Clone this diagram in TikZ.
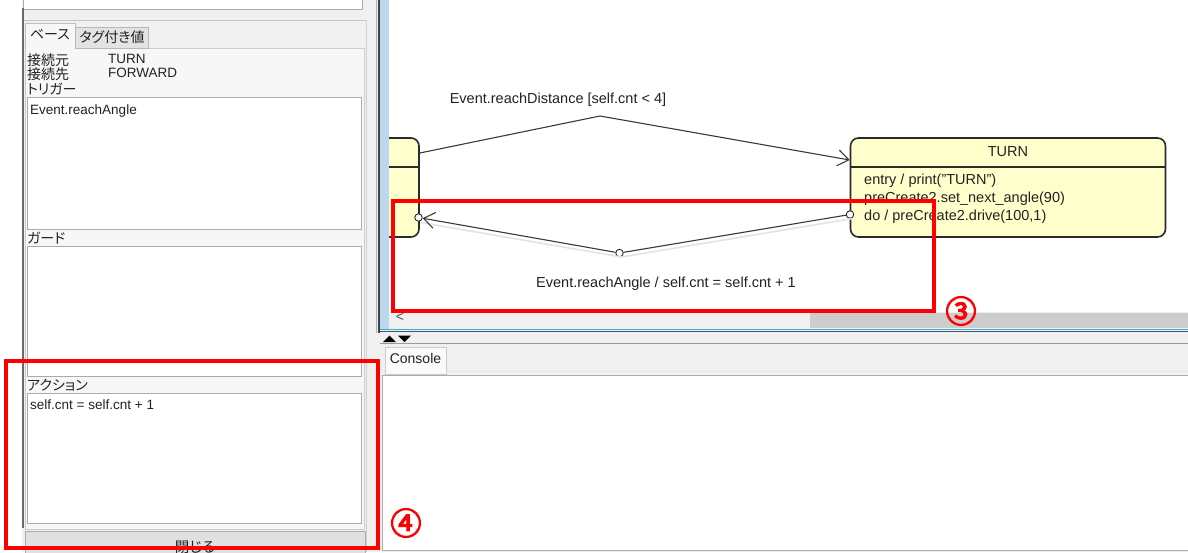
\documentclass[tikz,border=0pt]{standalone}
\usepackage{fontspec}
\setmainfont{Liberation Sans}
\newfontfamily\jp[RawFeature=+palt]{Noto Sans CJK JP}
\newfontfamily\circfont[FakeBold=4]{Noto Sans CJK JP}
\usetikzlibrary{arrows.meta}
\definecolor{panel}{HTML}{F0F0F0}
\definecolor{fieldgray}{HTML}{ABABAB}
\definecolor{darkline}{HTML}{6A6A6A}
\definecolor{canvasblue}{HTML}{BDD7EE}
\definecolor{statefill}{HTML}{FFFFCC}
\definecolor{statedraw}{HTML}{2A2A2A}
\definecolor{thumb}{HTML}{CDCDCD}
\definecolor{tealline}{HTML}{49A6C8}
\definecolor{tealdark}{HTML}{2E5E6E}
\definecolor{uired}{HTML}{FF0000}
\definecolor{txt}{HTML}{222222}
\definecolor{linegray}{HTML}{3A3A3A}
\definecolor{shadowgray}{HTML}{E2E2E2}
\begin{document}
\begin{tikzpicture}[x=1pt,y=-1pt,
  ui/.style={font=\fontsize{13.5}{15}\selectfont, text=txt, inner sep=0pt, text height=9.7pt, text depth=2.8pt},
  jplabel/.style={font=\jp\fontsize{14}{15}\selectfont, text=txt, inner sep=0pt, anchor=west},
  dgm/.style={font=\fontsize{14.5}{17}\selectfont, text=txt, inner sep=0pt, text height=10.4pt, text depth=3pt},
  field/.style={fill=white, draw=fieldgray, line width=1pt},
  statebox/.style={draw=statedraw, fill=statefill, rounded corners=8pt, line width=1.6pt, inner sep=0pt},
  trans/.style={draw=linegray, line width=1.1pt},
  port/.style={circle, draw=statedraw, fill=white, line width=0.9pt, minimum size=7.5pt, inner sep=0pt},
  redbox/.style={draw=uired, line width=4pt},
  num/.style={font=\circfont\fontsize{31}{31}\selectfont, text=uired, inner sep=0pt},
  opentip/.style={-{Straight Barb[length=11pt,width=16pt,line width=1.1pt]}}
]
\useasboundingbox (0,0) rectangle (1188,552);
\clip (0,0) rectangle (1188,552);
% backgrounds
\fill[white] (0,0) rectangle (1188,552);
\fill[panel] (22,0) rectangle (1188,552);
% ---------------- left panel ----------------
\draw[field] (23,-3) rectangle (362,9);
\draw[fieldgray!70, line width=1pt] (23,20.5) -- (367,20.5);
\draw[black!18, line width=1pt] (366,20) -- (366,552);
% tab content
\draw[fill=black!3, draw=black!20, line width=0.8pt] (25,48) rectangle (364,529);
% tabs
\draw[fill=black!3, draw=black!25, line width=0.8pt] (25,23) rectangle (75,48.5);
\draw[fill=black!11, draw=black!28, line width=0.8pt] (75,27) rectangle (148,48);
\fill[black!3] (25.5,47) rectangle (74.5,49.5);
\node[jplabel, anchor=center] (tabbase) at (50,35) {ベース};
\node[jplabel, anchor=center] (tabtag) at (112,37.5) {タグ付き値};
\draw[darkline, line width=2pt] (22.5,8) -- (22.5,528);
% properties
\node[jplabel] (lsrc) at (27,60) {接続元};
\node[ui, anchor=west] (vsrc) at (108,60) {TURN};
\node[jplabel] (ldst) at (27,74.5) {接続先};
\node[ui, anchor=west] (vdst) at (108,74.5) {FORWARD};
\node[jplabel] (ltrig) at (27,89) {トリガー};
\draw[field] (27,97.5) rectangle (361,229);
\node[ui, anchor=west] (vtrig) at (30,111) {Event.reachAngle};
\node[jplabel] (lguard) at (27,238.5) {ガード};
\draw[field] (27,246.5) rectangle (361,376);
\node[jplabel] (laction) at (27,385.5) {アクション};
\draw[field] (27,393) rectangle (361,523);
\node[ui, anchor=west] (vaction) at (30,406) {self.cnt = self.cnt + 1};
% close button
\draw[fill=black!12, draw=black!32, line width=0.8pt] (25,531) rectangle (365,560);
\node[jplabel, anchor=center, font=\jp\fontsize{14.5}{15}\selectfont] (closebtn) at (195,547) {閉じる};
% ---------------- canvas ----------------
\draw[black!30, line width=1pt] (376.5,0) -- (376.5,333);
\draw[black!75, line width=1.5pt] (379.2,0) -- (379.2,333);
\fill[canvasblue] (380,0) rectangle (389,329);
\fill[white] (389,0) rectangle (1188,312);
\fill[panel] (389,312) rectangle (1188,329);
\fill[thumb] (810,313) rectangle (1190,327.5);
\node[ui, font=\fontsize{14}{15}\selectfont, text=black!70] (scrollleft) at (400,318) {<};
\draw[tealline, line width=1.2pt] (380,329.5) -- (1188,329.5);
\draw[tealdark, line width=1.2pt] (380,331.5) -- (1188,331.5);
% splitter arrows
\fill[black] (383,342) -- (389.5,335.5) -- (396,342) -- cycle;
\fill[black] (398,335.5) -- (411,335.5) -- (404.5,342) -- cycle;
\draw[black!40, line width=1pt] (380,343.5) -- (1188,343.5);
% console
\draw[fill=black!2, draw=black!20, line width=0.8pt] (385,347.5) rectangle (446,374);
\node[ui, font=\fontsize{14}{15}\selectfont] (consoletab) at (415.5,360) {Console};
\draw[black!10, line width=1pt] (446,371.5) -- (1188,371.5);
\draw[fill=white, draw=black!32, line width=1pt] (382,375) rectangle (1192,550);
% ---------------- diagram ----------------
\begin{scope}
\clip (389,0) rectangle (1188,312);
\node[statebox, minimum width=89pt, minimum height=99pt] (fwd) at (374.5,187.5) {};
\draw[statedraw, line width=1.2pt] (330,167) -- (419,167);
\end{scope}
\node[statebox, minimum width=315pt, minimum height=99pt] (turn) at (1008,187.5) {};
\draw[statedraw, line width=1.2pt] (turn.west |- 0,167) -- (turn.east |- 0,167);
\node[dgm] (turntitle) at (1008,153) {TURN};
\node[dgm, anchor=west] (turnl1) at (864,181) {entry / print("TURN")};
\node[dgm, anchor=west] (turnl2) at (864,199) {preCreate2.set\_next\_angle(90)};
\node[dgm, anchor=west] (turnl3) at (864,217) {do / preCreate2.drive(100,1)};
% top transition
\coordinate (peak) at (600,116);
\draw[trans, opentip] ([yshift=34.5pt]fwd.east) -- (peak) -- ([yshift=27.5pt]turn.west);
\node[dgm] (lbltop) at (558,99.5) {Event.reachDistance [self.cnt < 4]};
% bottom transition
\node[port] (pturn) at (850,214.5) {};
\node[port] (pmid) at (619.5,253) {};
\node[port] (pfwd) at (418.5,217.5) {};
\draw[shadowgray, line width=1.5pt] ([xshift=3pt,yshift=-4pt]pturn.center) -- ([xshift=2pt,yshift=-4pt]pmid.center) -- ([xshift=2pt,yshift=-5pt]pfwd.center);
\draw[trans] (pturn) -- (pmid);
\draw[trans, opentip] (pmid) -- (pfwd);
\node[dgm] (lblbot) at (666,283.5) {Event.reachAngle / self.cnt = self.cnt + 1};
% ---------------- annotations ----------------
\draw[redbox] (393,201) rectangle (934,311);
\node[num] (num3) at (961,311) {③};
\draw[redbox] (6,361) rectangle (378,548);
\node[num] (num4) at (406,523) {④};
\end{tikzpicture}
\end{document}
